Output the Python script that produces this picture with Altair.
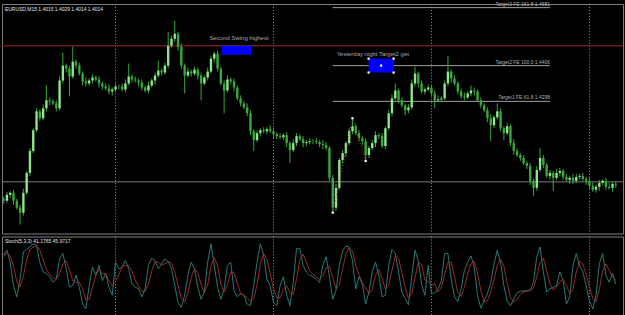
import altair as alt
import pandas as pd

# ---------------- data ----------------
first_open = 1.4004
closes = [
    1.3998, 1.4016, 1.4022, 1.3998, 1.3977, 1.3962, 1.4022, 1.4082, 1.4148, 1.4211,
    1.4268, 1.4247, 1.4277, 1.4301, 1.4298, 1.4292, 1.4277, 1.4361, 1.4406, 1.4397,
    1.4373, 1.4418, 1.4406, 1.4382, 1.4358, 1.4352, 1.4361, 1.4370, 1.4364, 1.4352,
    1.4343, 1.4337, 1.4328, 1.4334, 1.4343, 1.4343, 1.4334, 1.4352, 1.4373, 1.4364,
    1.4361, 1.4355, 1.4340, 1.4331, 1.4346, 1.4361, 1.4376, 1.4391, 1.4385, 1.4406,
    1.4466, 1.4487, 1.4502, 1.4463, 1.4406, 1.4376, 1.4388, 1.4382, 1.4394, 1.4376,
    1.4352, 1.4370, 1.4388, 1.4427, 1.4442, 1.4397, 1.4352, 1.4331, 1.4364, 1.4358,
    1.4340, 1.4307, 1.4292, 1.4280, 1.4262, 1.4208, 1.4181, 1.4202, 1.4211, 1.4208,
    1.4214, 1.4208, 1.4199, 1.4193, 1.4190, 1.4196, 1.4172, 1.4151, 1.4172, 1.4193,
    1.4184, 1.4172, 1.4175, 1.4178, 1.4178, 1.4175, 1.4169, 1.4166, 1.4157, 1.4067,
    1.3977, 1.4037, 1.4121, 1.4142, 1.4172, 1.4208, 1.4223, 1.4202, 1.4187, 1.4178,
    1.4136, 1.4157, 1.4172, 1.4196, 1.4193, 1.4163, 1.4217, 1.4262, 1.4307, 1.4331,
    1.4301, 1.4286, 1.4271, 1.4280, 1.4352, 1.4382, 1.4352, 1.4328, 1.4334, 1.4340,
    1.4322, 1.4301, 1.4304, 1.4307, 1.4352, 1.4388, 1.4367, 1.4352, 1.4328, 1.4313,
    1.4310, 1.4322, 1.4331, 1.4328, 1.4301, 1.4286, 1.4271, 1.4247, 1.4226, 1.4250,
    1.4268, 1.4217, 1.4202, 1.4223, 1.4172, 1.4148, 1.4136, 1.4127, 1.4112, 1.4103,
    1.4058, 1.4037, 1.4091, 1.4127, 1.4106, 1.4073, 1.4082, 1.4067, 1.4082, 1.4088,
    1.4070, 1.4061, 1.4067, 1.4058, 1.4070, 1.4073, 1.4064, 1.4058, 1.4043, 1.4031,
    1.4040, 1.4052, 1.4058, 1.4040, 1.4037, 1.4049, 1.4046,
]
# upper / lower shadow lengths in pips
wick_up = [
    6, 9, 6, 9, 6, 9, 12, 6, 9, 6,
    9, 6, 12, 45, 9, 6, 9, 12, 39, 6,
    9, 45, 6, 9, 6, 12, 6, 9, 6, 9,
    6, 9, 12, 6, 9, 6, 9, 12, 39, 6,
    9, 6, 9, 6, 12, 6, 9, 30, 6, 9,
    42, 9, 39, 6, 9, 6, 12, 6, 9, 6,
    9, 6, 12, 9, 6, 9, 6, 9, 12, 6,
    9, 6, 9, 6, 12, 9, 6, 9, 6, 9,
    6, 12, 9, 6, 9, 6, 9, 6, 12, 9,
    6, 9, 6, 9, 6, 9, 6, 12, 9, 6,
    9, 12, 6, 9, 6, 9, 24, 6, 9, 6,
    9, 6, 9, 12, 6, 9, 6, 9, 12, 21,
    6, 9, 6, 9, 12, 21, 6, 9, 6, 9,
    6, 9, 12, 6, 9, 48, 6, 9, 6, 9,
    12, 6, 15, 9, 6, 9, 6, 9, 12, 6,
    24, 9, 6, 9, 6, 12, 9, 6, 9, 6,
    9, 6, 12, 30, 9, 6, 9, 6, 12, 9,
    6, 9, 6, 12, 9, 6, 9, 6, 9, 12,
    6, 9, 6, 9, 12, 6, 9,
]
wick_dn = [
    9, 6, 9, 12, 6, 36, 9, 6, 9, 6,
    6, 9, 6, 9, 12, 6, 9, 6, 9, 12,
    60, 6, 9, 6, 12, 9, 6, 9, 6, 12,
    9, 6, 9, 12, 6, 9, 6, 9, 6, 9,
    6, 12, 9, 6, 9, 6, 12, 6, 9, 6,
    9, 6, 9, 12, 9, 54, 6, 9, 6, 12,
    51, 6, 9, 6, 12, 9, 6, 69, 6, 9,
    12, 6, 9, 6, 9, 12, 33, 6, 9, 6,
    9, 6, 12, 9, 6, 9, 12, 39, 6, 9,
    6, 12, 9, 6, 9, 6, 9, 12, 6, 9,
    15, 9, 6, 9, 12, 6, 9, 6, 9, 12,
    18, 9, 6, 12, 9, 6, 9, 6, 9, 6,
    9, 6, 15, 9, 6, 9, 12, 6, 9, 6,
    9, 24, 6, 9, 6, 9, 12, 6, 9, 6,
    9, 6, 9, 12, 6, 9, 6, 12, 48, 9,
    6, 9, 21, 6, 9, 12, 6, 9, 6, 9,
    12, 24, 9, 6, 9, 6, 12, 39, 6, 9,
    9, 6, 12, 9, 6, 9, 6, 12, 9, 6,
    9, 12, 6, 9, 6, 12, 9,
]
stoch_main = [
    77, 83, 68, 39, 25, 47, 81, 84, 87, 91,
    89, 68, 56, 54, 50, 43, 47, 72, 79, 60,
    37, 39, 52, 37, 16, 10, 39, 62, 52, 64,
    45, 54, 37, 27, 68, 60, 62, 70, 60, 41,
    37, 35, 25, 35, 64, 73, 70, 60, 66, 72,
    69, 60, 39, 18, 12, 27, 52, 68, 60, 37,
    22, 31, 68, 91, 64, 37, 22, 35, 64, 68,
    33, 25, 29, 27, 16, 14, 39, 68, 91, 77,
    47, 39, 18, 14, 39, 50, 27, 14, 43, 85,
    85, 64, 56, 52, 50, 47, 43, 64, 75, 50,
    22, 33, 64, 82, 88, 87, 70, 35, 50, 41,
    16, 31, 56, 68, 52, 25, 27, 64, 84, 79,
    56, 31, 23, 15, 50, 83, 70, 41, 27, 64,
    29, 30, 35, 45, 79, 79, 47, 25, 19, 35,
    58, 68, 76, 62, 27, 11, 20, 29, 43, 66,
    83, 68, 39, 20, 14, 22, 30, 32, 32, 33,
    33, 43, 75, 87, 56, 31, 35, 37, 39, 56,
    45, 16, 25, 64, 79, 64, 56, 39, 20, 10,
    27, 66, 79, 52, 43, 54, 41,
]
stoch_signal = [
    75, 80, 76, 63, 44, 37, 51, 71, 84, 87,
    89, 83, 71, 59, 53, 49, 47, 54, 66, 70,
    59, 45, 43, 43, 35, 21, 22, 37, 51, 59,
    54, 54, 45, 39, 44, 52, 63, 64, 64, 57,
    46, 38, 32, 32, 41, 57, 69, 68, 65, 66,
    69, 67, 56, 39, 23, 19, 30, 49, 60, 55,
    40, 30, 40, 63, 74, 64, 41, 31, 40, 56,
    55, 42, 29, 27, 24, 19, 23, 40, 66, 79,
    72, 54, 35, 24, 24, 34, 39, 30, 28, 47,
    71, 78, 68, 57, 53, 50, 47, 51, 61, 63,
    49, 35, 40, 60, 78, 86, 82, 64, 52, 42,
    36, 29, 34, 52, 59, 48, 35, 39, 58, 76,
    73, 55, 37, 23, 29, 49, 68, 65, 46, 44,
    40, 41, 31, 37, 53, 68, 68, 50, 30, 26,
    37, 54, 67, 69, 55, 33, 19, 20, 31, 46,
    64, 72, 63, 42, 24, 19, 22, 28, 31, 32,
    33, 36, 50, 68, 73, 58, 41, 34, 37, 44,
    47, 39, 29, 35, 56, 69, 66, 53, 38, 23,
    19, 34, 57, 66, 58, 50, 46,
]
day_starts = [34, 82, 130, 178]
red_level = 1.4466
bid_level = 1.4055
fe_start, fe_end = 100, 166
target_names = ["Target3 FE 161.8   1.4581", "Target2 FE 100.0   1.4406", "Target1 FE 61.8   1.4298"]
target_levels = [1.4581, 1.4406, 1.4298]
fe_points_idx = [100, 106, 110]
fe_points_price = [1.3962, 1.4247, 1.4118]
boxes_x = [66.2, 110.9]
boxes_x2 = [75.3, 118.5]
boxes_top = [1.4466, 1.4427]
boxes_bottom = [1.4439, 1.4385]
notes = ["Second Swing highest", "Yesterday night Target2 get"]
notes_x = [62.6, 101.2]
notes_price = [1.4490, 1.4442]
title_text = "EURUSD,M15  1.4015 1.4029 1.4014 1.4014"
stoch_text = "Stoch(5,3,3) 41.1765 45.9717"

# ---------------- tables ----------------
opens = [first_open] + closes[:-1]
rows = []
for i, (o, c, wu, wd) in enumerate(zip(opens, closes, wick_up, wick_dn)):
    rows.append({
        "i": i, "open": o, "close": c,
        "high": max(o, c) + wu * 0.0001,
        "low": min(o, c) - wd * 0.0001,
        "dir": "up" if c >= o else "down",
    })
candles = pd.DataFrame(rows)
stoch = pd.DataFrame({"i": list(range(len(stoch_main))), "main": stoch_main, "signal": stoch_signal})
days = pd.DataFrame({"i": day_starts})
targets = pd.DataFrame({"name": target_names, "level": target_levels,
                        "x1": [fe_start] * 3, "x2": [fe_end] * 3})
fe_pts = pd.DataFrame({"i": fe_points_idx, "p": fe_points_price})
boxes = pd.DataFrame({"x1": boxes_x, "x2": boxes_x2, "top": boxes_top, "bottom": boxes_bottom})
box_marks = pd.DataFrame({
    "i": [boxes_x[1], boxes_x2[1], boxes_x[1], boxes_x2[1], (boxes_x[1] + boxes_x2[1]) / 2],
    "p": [boxes_top[1], boxes_top[1], boxes_bottom[1], boxes_bottom[1], 1.4406],
})
notes_df = pd.DataFrame({"t": notes, "i": notes_x, "p": notes_price})

xs = alt.Scale(domain=[-0.5, 188.2], nice=False, zero=False)
ys = alt.Scale(domain=[1.3899, 1.4592], nice=False, zero=False)
ss = alt.Scale(domain=[0, 100], nice=False, zero=False)
FONT = "Liberation Sans"

W = 625

def X(f):
    return alt.X(f, type="quantitative", scale=xs, axis=None)

def Y(f):
    return alt.Y(f, type="quantitative", scale=ys, axis=None)

day_rule = alt.Chart(days).mark_rule(color="#9a9a9a", strokeDash=[1, 2], strokeWidth=1).encode(x=X("i"))

red_line = alt.Chart(pd.DataFrame({"p": [red_level]})).mark_rule(color="#6e1c1c", strokeWidth=1.5).encode(y=Y("p"))
bid_line = alt.Chart(pd.DataFrame({"p": [bid_level]})).mark_rule(color="#7a7a7a", strokeWidth=1).encode(y=Y("p"))

t_lines = alt.Chart(targets).mark_rule(color="#a0a0a0", strokeWidth=1).encode(
    x=X("x1"), x2="x2", y=Y("level"))
t_text = alt.Chart(targets).mark_text(align="right", baseline="bottom", dy=-1, fontSize=5,
                                      font=FONT, color="#b0b0b0").encode(
    x=X("x2"), y=Y("level"), text="name")

box = alt.Chart(boxes).mark_rect(color="#0000ff").encode(
    x=X("x1"), x2="x2", y=Y("top"), y2="bottom")

wicks = alt.Chart(candles).mark_rule(strokeWidth=1, color="#36a836").encode(
    x=X("i"), y=Y("low"), y2="high")
bodies = alt.Chart(candles).mark_rule(strokeWidth=2.4).encode(
    x=X("i"), y=Y("open"), y2="close",
    color=alt.Color("dir:N", scale=alt.Scale(domain=["up", "down"], range=["#8fe48f", "#3aa83a"]), legend=None))

fe_line = alt.Chart(fe_pts).mark_line(color="#b04848", strokeDash=[1, 2], strokeWidth=1).encode(
    x=X("i"), y=Y("p"))
fe_dots = alt.Chart(fe_pts).mark_square(color="white", size=5, opacity=1).encode(x=X("i"), y=Y("p"))
box_dots = alt.Chart(box_marks).mark_square(color="white", size=5, opacity=1).encode(x=X("i"), y=Y("p"))

note_text = alt.Chart(notes_df).mark_text(align="left", baseline="middle", fontSize=6, font=FONT,
                                          color="#a8a8a8").encode(x=X("i"), y=Y("p"), text="t")

title_mark = alt.Chart(pd.DataFrame({"t": [title_text]})).mark_text(
    align="left", baseline="middle", fontSize=5, font=FONT, color="#e6e6e6").encode(
    x=alt.value(3), y=alt.value(5), text="t")

main = alt.layer(day_rule, red_line, bid_line, t_lines, t_text, box, wicks, bodies,
                 fe_line, fe_dots, box_dots, note_text, title_mark).properties(width=W, height=231)

s_main = alt.Chart(stoch).mark_line(color="#2f8585", strokeWidth=0.9).encode(
    x=X("i"), y=alt.Y("main:Q", scale=ss, axis=None))
s_sig = alt.Chart(stoch).mark_line(color="#a83030", strokeWidth=0.9).encode(
    x=X("i"), y=alt.Y("signal:Q", scale=ss, axis=None))
s_label = alt.Chart(pd.DataFrame({"t": [stoch_text]})).mark_text(
    align="left", baseline="middle", fontSize=5, font=FONT, color="#e6e6e6").encode(
    x=alt.value(3), y=alt.value(5), text="t")

lower = alt.layer(day_rule, s_main, s_sig, s_label).properties(width=W, height=81)

chart = alt.vconcat(main, lower, spacing=1).properties(
    background="black", padding=0
).configure_view(stroke="#808080", strokeWidth=1)

chart.save("out.html", embed_options={"renderer": "svg", "actions": False})
